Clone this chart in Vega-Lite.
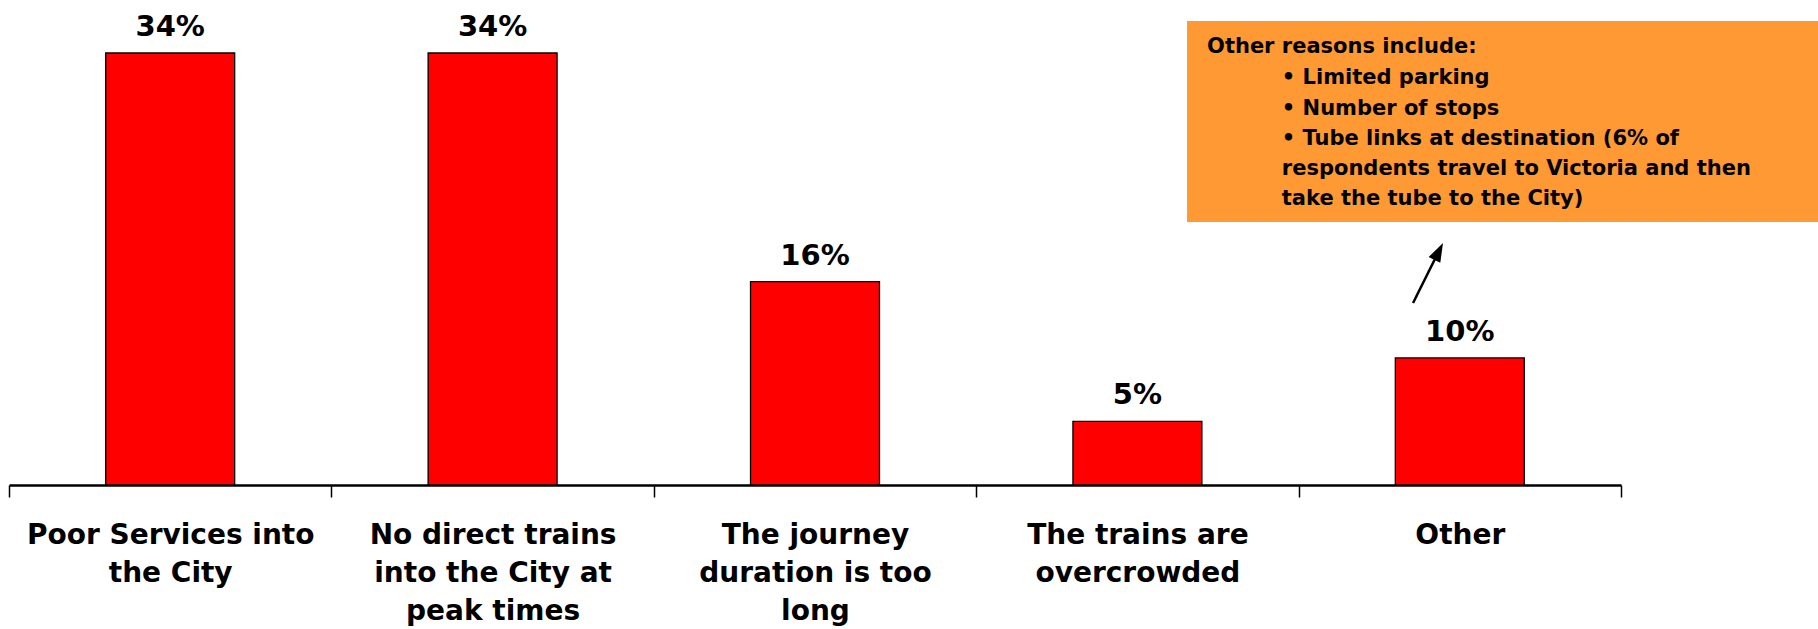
{
  "$schema": "https://vega.github.io/schema/vega-lite/v6.json",
  "width": 1818,
  "height": 485,
  "autosize": {"type": "none"},
  "padding": {"left": 0, "right": 0, "top": 0, "bottom": 144},
  "background": "white",
  "config": {"view": {"stroke": null}, "font": "DejaVu Sans"},
  "datasets": {
    "bars": [
      {"reason": "Poor Services into the City", "share": 0.34},
      {"reason": "No direct trains into the City at peak times", "share": 0.34},
      {"reason": "The journey duration is too long", "share": 0.16},
      {"reason": "The trains are overcrowded", "share": 0.05},
      {"reason": "Other", "share": 0.10}
    ],
    "box": [{"x": 3.154, "x2": 5.12, "y": 0.3652, "y2": 0.2070}],
    "notes": [
      {"x": 3.216, "y": 0.3400, "t": "Other reasons include:"},
      {"x": 3.448, "y": 0.3156, "t": "• Limited parking"},
      {"x": 3.448, "y": 0.2912, "t": "• Number of stops"},
      {"x": 3.448, "y": 0.2676, "t": "• Tube links at destination (6% of"},
      {"x": 3.448, "y": 0.2440, "t": "respondents travel to Victoria and then"},
      {"x": 3.448, "y": 0.2204, "t": "take the tube to the City)"}
    ],
    "arrow": [{"x": 3.855, "y": 0.1432, "x2": 3.934, "y2": 0.1835}],
    "head": [{"x": 3.934, "y": 0.1835, "angle": 26.6}]
  },
  "resolve": {"scale": {"x": "independent"}},
  "layer": [
    {
      "data": {"name": "bars"},
      "encoding": {
        "x": {
          "field": "reason", "type": "nominal", "sort": null,
          "scale": {"range": [9, 1621], "paddingInner": 0, "paddingOuter": 0},
          "axis": {
            "title": null,
            "domainColor": "black", "domainWidth": 2.5,
            "tickColor": "black", "tickWidth": 1.5, "tickSize": 12,
            "tickBand": "extent",
            "labelAngle": 0, "labelFont": "DejaVu Sans", "labelFontWeight": "bold",
            "labelFontSize": 28, "labelLineHeight": 38, "labelColor": "black",
            "labelPadding": 24, "labelLimit": 500,
            "labelExpr": "datum.value == 'Poor Services into the City' ? ['Poor Services into', 'the City'] : datum.value == 'No direct trains into the City at peak times' ? ['No direct trains', 'into the City at', 'peak times'] : datum.value == 'The journey duration is too long' ? ['The journey', 'duration is too', 'long'] : datum.value == 'The trains are overcrowded' ? ['The trains are', 'overcrowded'] : datum.value"
          }
        },
        "y": {"field": "share", "type": "quantitative", "scale": {"domain": [0, 0.3817], "nice": false}, "axis": null}
      },
      "layer": [
        {"mark": {"type": "bar", "width": {"band": 0.4}, "color": "#FF0000", "stroke": "black", "strokeWidth": 1.3}},
        {"mark": {"type": "text", "dy": -17, "baseline": "alphabetic", "fontSize": 29, "fontWeight": "bold", "font": "DejaVu Sans", "color": "black"},
         "encoding": {"text": {"field": "share", "type": "quantitative", "format": ".0%"}}}
      ]
    },
    {
      "data": {"name": "box"},
      "mark": {"type": "rect", "color": "#FF9933"},
      "encoding": {
        "x": {"field": "x", "type": "quantitative", "scale": {"domain": [-0.5, 4.5], "range": [9, 1621], "nice": false, "zero": false}, "axis": null},
        "x2": {"field": "x2"},
        "y": {"field": "y", "type": "quantitative", "scale": {"domain": [0, 0.3817], "nice": false}, "axis": null},
        "y2": {"field": "y2"}
      }
    },
    {
      "data": {"name": "notes"},
      "mark": {"type": "text", "align": "left", "baseline": "alphabetic", "fontSize": 21, "fontWeight": "bold", "font": "DejaVu Sans", "color": "black"},
      "encoding": {
        "x": {"field": "x", "type": "quantitative", "scale": {"domain": [-0.5, 4.5], "range": [9, 1621], "nice": false, "zero": false}, "axis": null},
        "y": {"field": "y", "type": "quantitative", "scale": {"domain": [0, 0.3817], "nice": false}, "axis": null},
        "text": {"field": "t"}
      }
    },
    {
      "data": {"name": "arrow"},
      "mark": {"type": "rule", "color": "black", "strokeWidth": 2.5},
      "encoding": {
        "x": {"field": "x", "type": "quantitative", "scale": {"domain": [-0.5, 4.5], "range": [9, 1621], "nice": false, "zero": false}, "axis": null},
        "x2": {"field": "x2"},
        "y": {"field": "y", "type": "quantitative", "scale": {"domain": [0, 0.3817], "nice": false}, "axis": null},
        "y2": {"field": "y2"}
      }
    },
    {
      "data": {"name": "head"},
      "mark": {"type": "point", "shape": "M0,-1L0.65,0.9L-0.65,0.9Z", "size": 400, "filled": true, "color": "black", "opacity": 1},
      "encoding": {
        "x": {"field": "x", "type": "quantitative", "scale": {"domain": [-0.5, 4.5], "range": [9, 1621], "nice": false, "zero": false}, "axis": null},
        "y": {"field": "y", "type": "quantitative", "scale": {"domain": [0, 0.3817], "nice": false}, "axis": null},
        "angle": {"field": "angle", "type": "quantitative", "scale": null}
      }
    }
  ]
}
